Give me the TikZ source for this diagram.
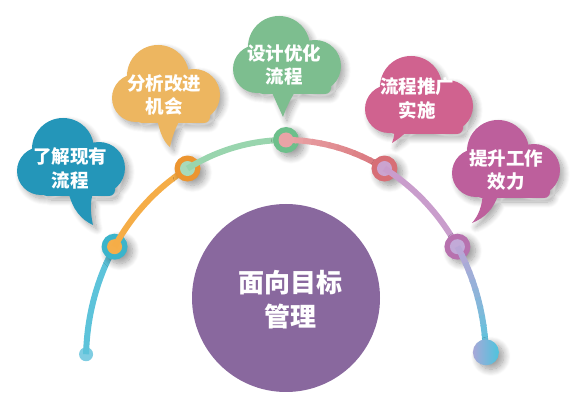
\documentclass[tikz,border=0pt]{standalone}
\usepackage{fontspec}
\newfontfamily\cjk{Noto Sans CJK SC}
\usetikzlibrary{shadows.blur}
\definecolor{cA}{HTML}{2496B9}
\definecolor{cB}{HTML}{EDB660}
\definecolor{cC}{HTML}{7DBE8F}
\definecolor{cD}{HTML}{D0628F}
\definecolor{cE}{HTML}{BD5F9C}
\definecolor{mid}{HTML}{89689E}
\definecolor{sdot}{HTML}{7FCDE2}
\definecolor{sg0}{HTML}{5DC3DA}
\definecolor{sg1}{HTML}{F5AD47}
\definecolor{sg2}{HTML}{99D5AE}
\definecolor{sg3a}{HTML}{E9A3A6}
\definecolor{sg3b}{HTML}{D9757C}
\definecolor{sg4}{HTML}{C99DCC}
\definecolor{sg5a}{HTML}{B9A6D6}
\definecolor{sg5b}{HTML}{5CC4DD}
\definecolor{ro1}{HTML}{3BB4CB}\definecolor{ri1}{HTML}{F5AE4A}
\definecolor{ro2}{HTML}{EC9530}\definecolor{ri2}{HTML}{A8DABB}
\definecolor{ro3}{HTML}{6DBF8B}\definecolor{ri3}{HTML}{E9A3A6}
\definecolor{ro4}{HTML}{D76E76}\definecolor{ri4}{HTML}{CBA3CF}
\definecolor{ro5}{HTML}{B771AE}\definecolor{ri5}{HTML}{C2AAD8}
\definecolor{edl}{HTML}{A7A8D8}\definecolor{edr}{HTML}{4DC4DD}
\newcommand{\cloudshape}[2]{({#1+46},{#2+31}) circle[radius=31] ({#1+24},{#2+53}) circle[radius=24] ({#1+82},{#2+50}) circle[radius=26] ({#1+98},{#2+40}) [rounded corners=6pt] rectangle ({#1+24},{#2+78}) [sharp corners]}
\begin{document}
\begin{tikzpicture}[x=1pt,y=-1pt,
  cloudshadow/.style={blur shadow={shadow xshift=4pt,shadow yshift=-4pt,shadow blur radius=6pt,shadow blur steps=12,shadow opacity=35}},
  ringshadow/.style={blur shadow={shadow xshift=5pt,shadow yshift=-4pt,shadow blur radius=7pt,shadow blur steps=12,shadow opacity=40}},
  cloudtext/.style={text=white,font=\cjk\bfseries\fontsize{18.5}{23.5}\selectfont,align=center,inner sep=0pt},
  seg/.style={line width=6pt},
  ringout/.style={circle,minimum size=26pt,inner sep=0pt},
  ringin/.style={circle,minimum size=15pt,inner sep=0pt}]
\useasboundingbox (0,0) rectangle (584,403);
% anchor points on the arc
\coordinate (p0) at ({286+200*cos(178.5)},{360-220*sin(178.5)});
\coordinate (r1) at ({286+200*cos(149)},{360-220*sin(149)});
\coordinate (r2) at ({286+200*cos(119.5)},{360-220*sin(119.5)});
\coordinate (r3) at ({286+200*cos(90)},{360-220*sin(90)});
\coordinate (r4) at ({286+200*cos(60.5)},{360-220*sin(60.5)});
\coordinate (r5) at ({286+200*cos(31)},{360-220*sin(31)});
\coordinate (p6) at ({286+200*cos(2)},{360-220*sin(2)});
% clouds
\fill[cA,cloudshadow] \cloudshape{17}{118} (94,190) .. controls (90,200) and (90,212) .. (93,225) .. controls (82,220) and (72,210) .. (68,190) -- cycle;
\fill[cB,cloudshadow] \cloudshape{112}{45} (181,118) .. controls (175,128) and (172,138) .. (170,147) .. controls (165,143) and (160,135) .. (157,118) -- cycle;
\fill[cC,cloudshadow] \cloudshape{233}{16} (296,90) .. controls (290,100) and (286,108) .. (283,117) .. controls (280,110) and (276,102) .. (271,90) -- cycle;
\fill[cD,cloudshadow] \cloudshape{365}{56} (414,122) .. controls (408,132) and (400,138) .. (392,143) .. controls (394,138) and (396,130) .. (393,120) -- cycle;
\fill[cE,cloudshadow] \cloudshape{452}{120} (499,192) .. controls (494,210) and (484,218) .. (472,223) .. controls (478,216) and (482,208) .. (483,192) -- cycle;
\node[cloudtext] (t1) at (70,168.5) {了解现有\\流程};
\node[cloudtext] (t2) at (164,95) {分析改进\\机会};
\node[cloudtext] (t3) at (284,65) {设计优化\\流程};
\node[cloudtext] (t4) at (417,98.5) {流程推广\\实施};
\node[cloudtext] (t5) at (506,170) {提升工作\\效力};
% centre circle
\node[circle,fill=mid,minimum size=188pt,inner sep=0pt] (core) at (286,298) {};
\node[text=white,font=\cjk\bfseries\fontsize{26}{34}\selectfont,align=center,inner sep=0pt] (coretext) at (290,300) {面向目标\\管理};
% arc path
\node[circle,fill=sdot,minimum size=14pt,inner sep=0pt] (d0) at (p0) {};
\draw[seg,sg0] (p0) arc[start angle=-178.5,end angle=-149,x radius=200,y radius=220];
\node[ringout,fill=ro1,ringshadow] (n1) at (r1) {};
\node[ringin,fill=ri1] (m1) at (r1) {};
\draw[seg,sg1] (r1) arc[start angle=-149,end angle=-119.5,x radius=200,y radius=220];
\node[ringout,fill=ro2,ringshadow] (n2) at (r2) {};
\node[ringin,fill=ri2] (m2) at (r2) {};
\draw[seg,sg2] (r2) arc[start angle=-119.5,end angle=-90,x radius=200,y radius=220];
\node[ringout,fill=ro3,ringshadow] (n3) at (r3) {};
\node[ringin,fill=ri3] (m3) at (r3) {};
\foreach \i in {0,...,11}{
  \pgfmathsetmacro\aa{-90+\i*29.5/12}
  \pgfmathsetmacro\bb{\aa+29.5/12+0.4}
  \pgfmathsetmacro\pp{100-\i*100/11}
  \draw[seg,color=sg3a!\pp!sg3b] ({286+200*cos(\aa)},{360+220*sin(\aa)}) arc[start angle=\aa,end angle=\bb,x radius=200,y radius=220];
}
\node[ringout,fill=ro4,ringshadow] (n4) at (r4) {};
\node[ringin,fill=ri4] (m4) at (r4) {};
\draw[seg,sg4] (r4) arc[start angle=-60.5,end angle=-31,x radius=200,y radius=220];
\node[ringout,fill=ro5,ringshadow] (n5) at (r5) {};
\node[ringin,fill=ri5] (m5) at (r5) {};
\foreach \i in {0,...,11}{
  \pgfmathsetmacro\aa{-31+\i*29/12}
  \pgfmathsetmacro\bb{\aa+29/12+0.4}
  \pgfmathsetmacro\pp{100-\i*100/11}
  \draw[seg,color=sg5a!\pp!sg5b] ({286+200*cos(\aa)},{360+220*sin(\aa)}) arc[start angle=\aa,end angle=\bb,x radius=200,y radius=220];
}
\node[circle,minimum size=26pt,inner sep=0pt,left color=edl,right color=edr,ringshadow] (d6) at (p6) {};
\end{tikzpicture}
\end{document}
